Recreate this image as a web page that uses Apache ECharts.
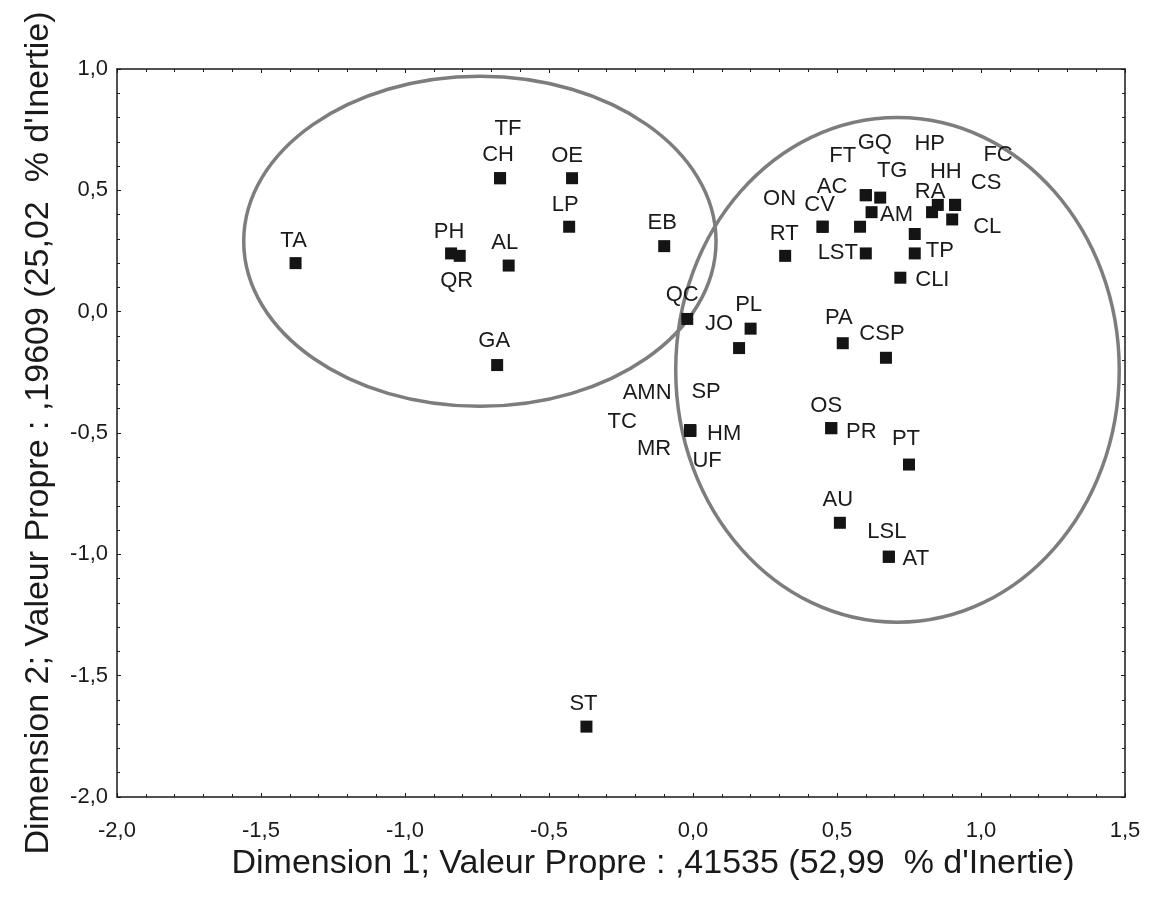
<!DOCTYPE html>
<html>
<head>
<meta charset="utf-8">
<title>Analyse des correspondances</title>
<script src="https://cdn.jsdelivr.net/npm/echarts@6/dist/echarts.min.js"></script>
<style>
  html, body { margin: 0; padding: 0; background: #ffffff; }
  #chart { width: 1151px; height: 900px; }
</style>
</head>
<body>
<div id="chart"></div>
<script>
// ---- Data ----
const names = ['TA','PH','QR','AL','CH','TF','OE','LP','EB','QC','GA','ST','PL','JO','PA','CSP',
  'AMN','SP','TC','HM','MR','UF','OS','PR','PT','AU','LSL','AT',
  'GQ','FT','TG','AM','AC','CV','ON','RT','LST','HP','TP','CLI','RA','HH','CS','FC','CL'];
const dim1 = [-1.38,-0.84,-0.81,-0.64,-0.67,-0.67,-0.42,-0.43,-0.10,-0.02,-0.68,-0.37,0.20,0.16,0.52,0.67,
  -0.01,-0.01,-0.01,-0.01,-0.01,-0.01,0.48,0.48,0.75,0.51,0.68,0.68,
  0.60,0.60,0.65,0.62,0.58,0.45,0.45,0.32,0.60,0.77,0.77,0.72,0.83,0.85,0.91,0.91,0.90];
const dim2 = [0.20,0.24,0.23,0.19,0.55,0.55,0.55,0.35,0.27,-0.03,-0.22,-1.71,-0.07,-0.15,-0.13,-0.19,
  -0.49,-0.49,-0.49,-0.49,-0.49,-0.49,-0.48,-0.48,-0.63,-0.87,-1.01,-1.01,
  0.48,0.48,0.47,0.41,0.35,0.35,0.35,0.23,0.24,0.32,0.24,0.14,0.41,0.44,0.44,0.44,0.38];

// Group ellipses (centre x, centre y, radius x, radius y) in data units
const ellipseCx = [-0.74, 0.71];
const ellipseCy = [0.29, -0.24];
const ellipseRx = [0.82, 0.77];
const ellipseRy = [0.68, 1.04];

const xTicksMin = -2.0, xTicksMax = 1.5, yTicksMin = -2.0, yTicksMax = 1.0, tickStep = 0.5;
const xTitle = "Dimension 1; Valeur Propre : ,41535 (52,99  % d'Inertie)";
const yTitle = "Dimension 2; Valeur Propre : ,19609 (25,02  % d'Inertie)";

// ---- Layout: label offsets (pixels) relative to each point ----
const labelShift = [[-2,-22],[-2,-21],[-3,25],[-4,-23],[-2,-23],[8,-49],[-5,-22],[-4,-22],[-2,-23],[-5,-24],[-3,-24],[-3,-23],[-2,-24],[-20,-24],[-4,-25],[-4,-24],
  [-43,-38],[16,-39],[-68,-9],[34,3],[-36,18],[17,30],[-5,-22],[30,4],[-3,-26],[-2,-23],[-2,-25],[27,2],
  [9,-52],[-23,-39],[12,-27],[25,3],[-28,-40],[-3,-22],[-43,-28],[-1,-22],[-28,0],[15,-90],[25,-2],[32,2],[-2,-20],[8,-33],[31,-22],[43,-50],[35,7]];

const FONT = "'Liberation Sans', Arial, Helvetica, sans-serif";
const fmt = v => v.toFixed(1).replace('.', ',');

const pointData = names.map((n, i) => ({
  name: n,
  value: [dim1[i], dim2[i]],
  label: { offset: labelShift[i] }
}));
const ellipseData = ellipseCx.map((c, i) => [c, ellipseCy[i], ellipseRx[i], ellipseRy[i]]);

const tickCommon = {
  axisLine: { show: true, onZero: false, lineStyle: { color: '#1a1a1a', width: 1.5 } },
  axisTick: { show: true, inside: true, length: 4, lineStyle: { color: '#1a1a1a' } },
  minorTick: { show: true, splitNumber: 5, length: 3, lineStyle: { color: '#1a1a1a' } },
  splitLine: { show: false },
  minorSplitLine: { show: false }
};

const chart = echarts.init(document.getElementById('chart'), null, { renderer: 'canvas' });
chart.setOption({
  backgroundColor: '#ffffff',
  animation: false,
  grid: { left: 117, right: 26, top: 69, bottom: 103, containLabel: false },
  xAxis: [
    Object.assign({
      type: 'value', min: xTicksMin, max: xTicksMax, interval: tickStep, position: 'bottom',
      axisLabel: { formatter: fmt, fontFamily: FONT, fontSize: 22, color: '#1a1a1a', margin: 23 },
      name: xTitle, nameLocation: 'middle', nameGap: 43,
      nameTextStyle: { fontFamily: FONT, fontSize: 34, color: '#1a1a1a', padding: [0, 0, 0, 64] }
    }, tickCommon),
    Object.assign({
      type: 'value', min: xTicksMin, max: xTicksMax, interval: tickStep, position: 'top',
      axisLabel: { show: false }
    }, tickCommon)
  ],
  yAxis: [
    Object.assign({
      type: 'value', min: yTicksMin, max: yTicksMax, interval: tickStep, position: 'left',
      axisLabel: { formatter: fmt, fontFamily: FONT, fontSize: 22, color: '#1a1a1a', margin: 9 },
      name: yTitle, nameLocation: 'middle', nameGap: 61, nameRotate: 90,
      nameTextStyle: { fontFamily: FONT, fontSize: 34, color: '#1a1a1a' }
    }, tickCommon),
    Object.assign({
      type: 'value', min: yTicksMin, max: yTicksMax, interval: tickStep, position: 'right',
      axisLabel: { show: false }
    }, tickCommon)
  ],
  series: [
    {
      type: 'custom',
      xAxisIndex: 0, yAxisIndex: 0,
      z: 1,
      silent: true,
      data: ellipseData,
      encode: { x: 0, y: 1 },
      renderItem: function (params, api) {
        const c = api.coord([api.value(0), api.value(1)]);
        const rx = api.size([api.value(2), 0])[0];
        const ry = api.size([0, api.value(3)])[1];
        return {
          type: 'ellipse',
          shape: { cx: c[0], cy: c[1], rx: rx, ry: ry },
          style: { fill: 'none', stroke: '#7d7d7d', lineWidth: 3.5 }
        };
      }
    },
    {
      type: 'scatter',
      xAxisIndex: 0, yAxisIndex: 0,
      z: 3,
      symbol: 'rect',
      symbolSize: 12,
      itemStyle: { color: '#141414', opacity: 1 },
      label: {
        show: true,
        position: 'inside',
        formatter: '{b}',
        fontFamily: FONT,
        fontSize: 22,
        color: '#1a1a1a'
      },
      emphasis: { disabled: true },
      data: pointData
    }
  ]
});
</script>
</body>
</html>
